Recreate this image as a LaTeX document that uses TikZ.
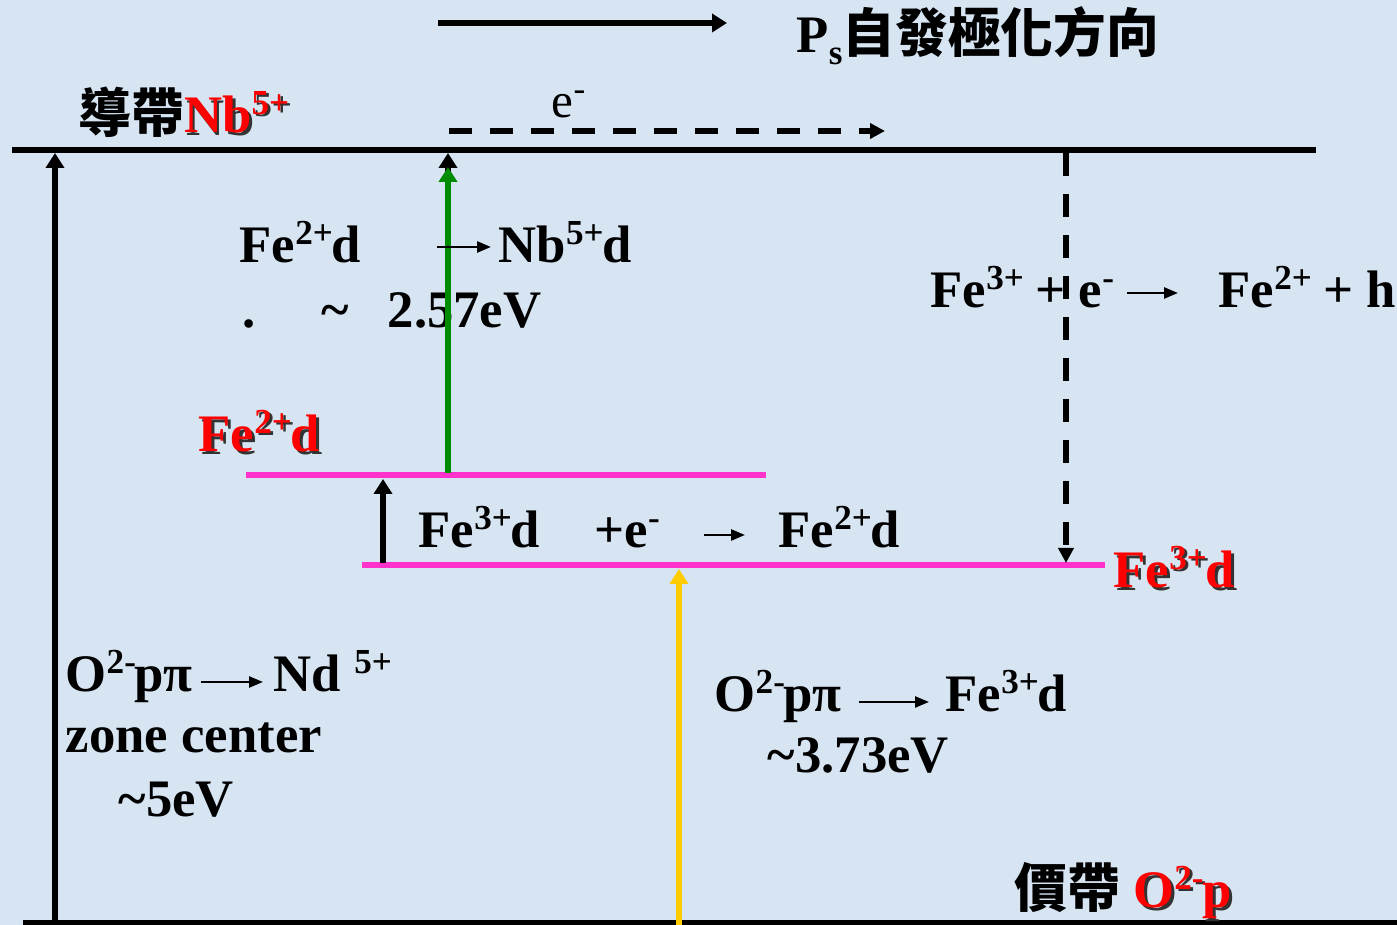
\documentclass[tikz,border=0pt]{standalone}
\usepackage{fontspec}
\setmainfont{Liberation Serif}
\newfontfamily\cjk{Noto Sans CJK TC Bold}
\usepackage{tikz}
\usetikzlibrary{arrows.meta}
\definecolor{BGblue}{HTML}{D7E5F3}
\definecolor{LVLpink}{HTML}{FF33CC}
\definecolor{ARRgreen}{HTML}{008C00}
\definecolor{ARRyellow}{HTML}{FFCC00}
\definecolor{LBLred}{HTML}{FF0000}
\newcommand\sups[1]{\raisebox{0.36em}{\fontsize{10}{10}\selectfont#1}\kern-0.4pt\relax}
\newcommand\subs[1]{\raisebox{-0.22em}{\fontsize{10}{10}\selectfont#1}}
\newcommand\shadowed[1]{\makebox[0pt][l]{\kern0.8pt\raisebox{-0.8pt}{\color{black!80}#1}}\textcolor{LBLred}{#1}}
\tikzset{
  txt/.style={font=\bfseries\fontsize{15}{18}\selectfont, inner sep=0pt, anchor=base west, text=black},
  etxt/.style={font=\fontsize{14}{17}\selectfont, inner sep=0pt, anchor=base west, text=black},
  band/.style={line width=1.8pt, draw=black},
  level/.style={line width=1.7pt, draw=LVLpink},
  bigarr/.style={-{Triangle[length=1.5mm, width=1.8mm]}, line width=1.6pt, draw=black},
  dasharr/.style={-{Triangle[length=1.5mm, width=1.5mm]}, line width=1.7pt, draw=black, dash pattern=on 0.23cm off 0.18cm},
  txtarr/.style={-{Triangle[length=1.4mm, width=1.1mm]}, line width=0.7pt, draw=black}
}
\begin{document}
\begin{tikzpicture}
  \fill[BGblue] (0,0) rectangle (13.97,-9.25);
  \useasboundingbox (0,0) rectangle (13.97,-9.25);
  % band edges and levels
  \coordinate (cbL) at (0.12,-1.50); \coordinate (cbR) at (13.16,-1.50);
  \coordinate (vbL) at (0.23,-9.23); \coordinate (vbR) at (13.97,-9.23);
  \coordinate (feTwoL) at (2.46,-4.75); \coordinate (feTwoR) at (7.66,-4.75);
  \coordinate (feThreeL) at (3.62,-5.65); \coordinate (feThreeR) at (11.05,-5.65);
  \draw[band] (cbL) -- (cbR);
  \draw[band] (vbL) -- (vbR);
  \draw[level] (feTwoL) -- (feTwoR);
  \draw[level] (feThreeL) -- (feThreeR);
  % labels
  \node[txt] (ps) at (7.96,-0.53) {P\subs{s}{\cjk 自發極化方向}};
  \node[txt] (cb) at (0.78,-1.33) {{\cjk 導帶}\shadowed{Nb\sups{5+}}};
  \node[etxt] (el) at (5.51,-1.18) {e\sups{-}};
  \node[txt] (fetwoa) at (2.39,-2.63) {Fe\sups{2+}d};
  \node[txt] (nbfive) at (4.98,-2.63) {Nb\sups{5+}d};
  \node[txt] (dot) at (2.42,-3.28) {.};
  \node[txt] (tl) at (3.21,-3.28) {\textasciitilde};
  \node[txt] (evA) at (3.87,-3.28) {2.57eV};
  \node[txt] (fetwolbl) at (1.98,-4.52) {\shadowed{Fe\sups{2+}d}};
  \node[txt] (fethreea) at (4.18,-5.48) {Fe\sups{3+}d};
  \node[txt] (pe) at (5.94,-5.48) {+e\sups{-}};
  \node[txt] (fetwob) at (7.78,-5.48) {Fe\sups{2+}d};
  \node[txt] (rxa) at (9.30,-3.08) {Fe\sups{3+} + e\sups{-}};
  \node[txt] (rxb) at (12.18,-3.08) {Fe\sups{2+} + h};
  \node[txt] (fethreelbl) at (11.13,-5.88) {\shadowed{Fe\sups{3+}d}};
  \node[txt] (ona) at (0.65,-6.92) {O\sups{2-}pπ};
  \node[txt] (nd) at (2.73,-6.92) {Nd \sups{5+}};
  \node[txt] (zc) at (0.65,-7.53) {zone center};
  \node[txt] (evB) at (1.18,-8.17) {\textasciitilde5eV};
  \node[txt] (onb) at (7.14,-7.12) {O\sups{2-}pπ};
  \node[txt] (fethreec) at (9.45,-7.12) {Fe\sups{3+}d};
  \node[txt] (evC) at (7.67,-7.73) {\textasciitilde3.73eV};
  \node[txt] (vb) at (10.14,-9.08) {{\cjk 價帶} \shadowed{O\sups{2-}p}};
  % transitions
  \draw[bigarr] (4.38,-0.23) -- (7.27,-0.23);
  \draw[dasharr] (4.49,-1.31) -- (8.85,-1.31);
  \draw[bigarr] (0.55,-9.23) -- (0.55,-1.53);
  \draw[bigarr] (4.48,-4.73) -- (4.48,-1.53);
  \draw[bigarr, draw=ARRgreen, fill=ARRgreen] (4.48,-4.73) -- (4.48,-1.67);
  \draw[bigarr] (3.83,-5.63) -- (3.83,-4.79);
  \draw[bigarr, draw=ARRyellow, fill=ARRyellow] (6.79,-9.25) -- (6.79,-5.69);
  \draw[dasharr] (10.66,-1.53) -- (10.66,-5.63);
  % arrows inside the texts
  \draw[txtarr] ([xshift=7.5mm, yshift=1.6mm]fetwoa.base east) -- ([xshift=-0.7mm, yshift=1.6mm]nbfive.base west);
  \draw[txtarr] ([xshift=4.5mm, yshift=1.3mm]pe.base east) -- ([xshift=-3.3mm, yshift=1.3mm]fetwob.base west);
  \draw[txtarr] ([xshift=1.4mm, yshift=1.5mm]rxa.base east) -- ([xshift=-4.0mm, yshift=1.5mm]rxb.base west);
  \draw[txtarr] ([xshift=0.8mm, yshift=1.0mm]ona.base east) -- ([xshift=-1.0mm, yshift=1.0mm]nd.base west);
  \draw[txtarr] ([xshift=1.7mm, yshift=1.0mm]onb.base east) -- ([xshift=-1.6mm, yshift=1.0mm]fethreec.base west);
\end{tikzpicture}
\end{document}
